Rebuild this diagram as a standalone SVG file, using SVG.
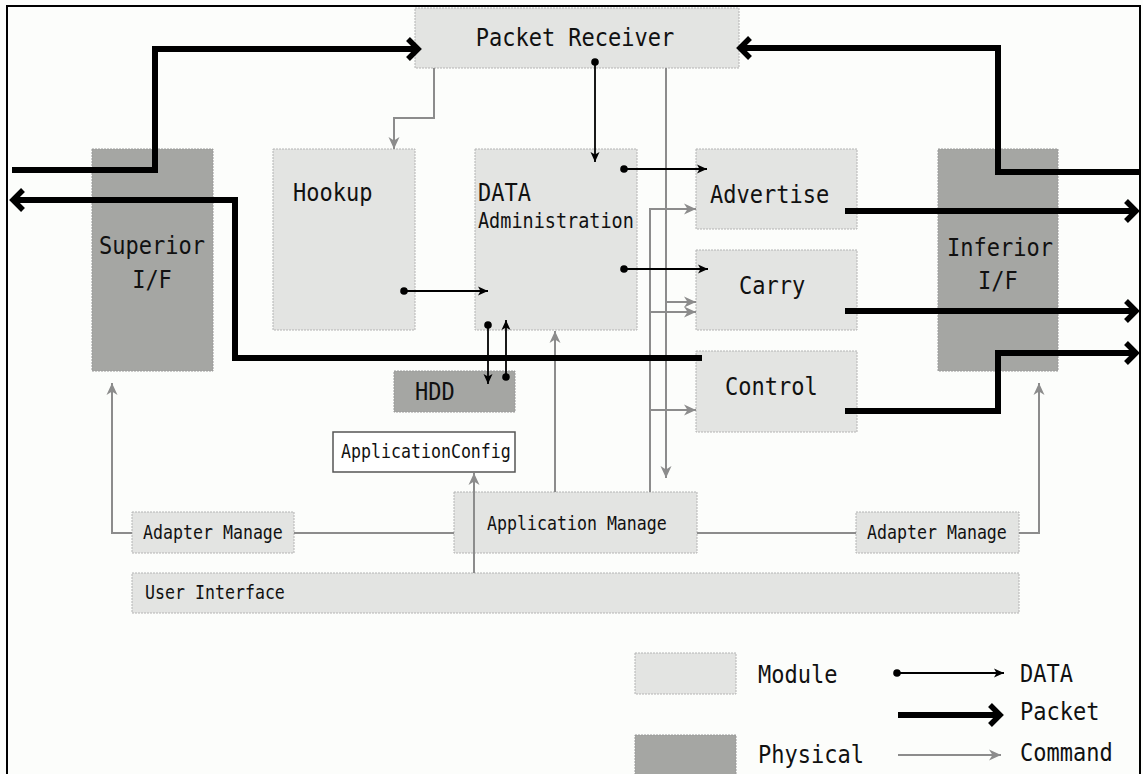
<svg xmlns="http://www.w3.org/2000/svg" width="1143" height="774" viewBox="0 0 1143 774">
<style>
.mod{fill:#e3e4e2;stroke:#b4b4b4;stroke-width:1;stroke-dasharray:2 1}
.phy{fill:#a5a6a3;stroke:#9a9a9a;stroke-width:1;stroke-dasharray:2 1}
.t{font-family:"DejaVu Sans Mono","Liberation Mono",monospace;font-size:22px;fill:#111;transform-box:fill-box;transform-origin:50% 79%;transform:scaleY(1.13)}
.s{font-family:"DejaVu Sans Mono","Liberation Mono",monospace;font-size:16.6px;fill:#111;transform-box:fill-box;transform-origin:50% 79%;transform:scaleY(1.2)}
.pk{fill:none;stroke:#000;stroke-width:6;marker-end:url(#ap)}
.da{fill:none;stroke:#000;stroke-width:1.8;marker-start:url(#dt);marker-end:url(#ad)}
.cm{fill:none;stroke:#8c8c8c;stroke-width:2}
.ca{marker-end:url(#ac)}
</style>
<defs>
<marker id="ap" markerUnits="userSpaceOnUse" viewBox="-20 -15 30 30" refX="0" refY="0" markerWidth="30" markerHeight="30" orient="auto" overflow="visible">
<path d="M-11,-10 L-1,0 L-11,10" fill="none" stroke="#000" stroke-width="5.5" stroke-linejoin="miter"/>
</marker>
<marker id="ad" markerUnits="userSpaceOnUse" viewBox="-12 -6 14 12" refX="0" refY="0" markerWidth="14" markerHeight="12" orient="auto" overflow="visible">
<path d="M-10,-4.5 L0,0 L-10,4.5 L-7.5,0 z" fill="#000"/>
</marker>
<marker id="dt" markerUnits="userSpaceOnUse" viewBox="-5 -5 10 10" refX="0" refY="0" markerWidth="10" markerHeight="10" orient="auto" overflow="visible">
<circle cx="0" cy="0" r="3.8" fill="#000"/>
</marker>
<marker id="ac" markerUnits="userSpaceOnUse" viewBox="-14 -7 16 14" refX="0" refY="0" markerWidth="16" markerHeight="14" orient="auto" overflow="visible">
<path d="M-12,-5.5 L0,0 L-12,5.5 L-8.5,0 z" fill="#8c8c8c"/>
</marker>
</defs>
<rect x="0" y="0" width="1143" height="774" fill="#fcfdfb"/>
<path d="M7,774 V6 H1140 V774" fill="none" stroke="#000" stroke-width="2"/>

<g id="packet-receiver"><rect class="mod" x="415" y="8" width="324" height="60"/><text class="t" x="575" y="46" text-anchor="middle">Packet Receiver</text></g>
<g id="superior-if"><rect class="phy" x="92" y="149" width="121" height="222"/><text class="t" x="152" y="254" text-anchor="middle">Superior</text><text class="t" x="152" y="288" text-anchor="middle">I/F</text></g>
<g id="inferior-if"><rect class="phy" x="938" y="149" width="120" height="222"/><text class="t" x="1000" y="256" text-anchor="middle">Inferior</text><text class="t" x="998" y="289" text-anchor="middle">I/F</text></g>
<g id="hookup"><rect class="mod" x="273" y="149" width="142" height="181"/><text class="t" x="293" y="201">Hookup</text></g>
<g id="data-admin"><rect class="mod" x="475" y="149" width="162" height="181"/><text class="t" x="478" y="201">DATA</text><text class="t" x="478" y="228" style="font-size:18.5px">Administration</text></g>
<g id="advertise"><rect class="mod" x="696" y="149" width="161" height="80"/><text class="t" x="710" y="203">Advertise</text></g>
<g id="carry"><rect class="mod" x="696" y="250" width="161" height="80"/><text class="t" x="739" y="294">Carry</text></g>
<g id="control"><rect class="mod" x="696" y="351" width="161" height="81"/><text class="t" x="725" y="395">Control</text></g>
<g id="hdd"><rect class="phy" x="394" y="371" width="121" height="41"/><text class="t" x="415" y="400">HDD</text></g>
<g id="app-config"><rect x="333" y="432" width="182" height="40" fill="#fff" stroke="#555" stroke-width="1.5"/><text class="s" x="341" y="458">ApplicationConfig</text></g>
<g id="app-manage"><rect class="mod" x="454" y="492" width="243" height="61"/><text class="s" x="487" y="530">Application Manage</text></g>
<g id="adapter-left"><rect class="mod" x="132" y="512" width="162" height="41"/><text class="s" x="143" y="539">Adapter Manage</text></g>
<g id="adapter-right"><rect class="mod" x="856" y="512" width="163" height="41"/><text class="s" x="867" y="539">Adapter Manage</text></g>
<g id="user-interface"><rect class="mod" x="132" y="573" width="887" height="40"/><text class="s" x="145" y="599">User Interface</text></g>

<g id="connectors">
<path class="cm ca" d="M434,68 V118 H394 V149"/>
<path class="cm ca" d="M555,492 V331"/>
<path class="cm ca" d="M666,68 V478"/>
<path class="cm ca" d="M650,492 V209 H696"/>
<path class="cm ca" d="M650,312 H696"/>
<path class="cm ca" d="M650,410 H696"/>
<path class="cm ca" d="M666,302 H696"/>
<path class="cm ca" d="M132,533 H112 V383"/>
<path class="cm" d="M294,533 H454" stroke-width="2.5"/>
<path class="cm" d="M697,533 H856" stroke-width="2.5"/>
<path class="cm ca" d="M1019,533 H1039 V383"/>
<path class="cm ca" d="M474,573 V473"/>

<path class="pk" d="M12,170 H155 V49 H419"/>
<path class="pk" d="M702,358 H235 V200 H12"/>
<path class="pk" d="M1140,172 H998 V48 H739"/>
<path class="pk" d="M845,211 H1137"/>
<path class="pk" d="M845,311 H1137"/>
<path class="pk" d="M845,411 H998 V353 H1137"/>

<path class="da" d="M595,62 V162"/>
<path class="da" d="M624,169 H707"/>
<path class="da" d="M624,269 H708"/>
<path class="da" d="M404,291 H488"/>
<path class="da" d="M488,325 V384"/>
<path class="da" d="M506,377 V320"/>
</g>

<g id="legend">
<rect class="mod" x="635" y="653" width="101" height="41"/>
<text class="t" x="758" y="683">Module</text>
<rect class="phy" x="635" y="735" width="101" height="45"/>
<text class="t" x="758" y="763">Physical</text>
<path class="da" d="M897,673 H1004"/>
<text class="t" x="1020" y="682">DATA</text>
<path class="pk" d="M898,715 H1001"/>
<text class="t" x="1020" y="720">Packet</text>
<path class="cm" d="M898,755 H1001" marker-end="url(#ac)"/>
<text class="t" x="1020" y="761">Command</text>
</g>
</svg>
